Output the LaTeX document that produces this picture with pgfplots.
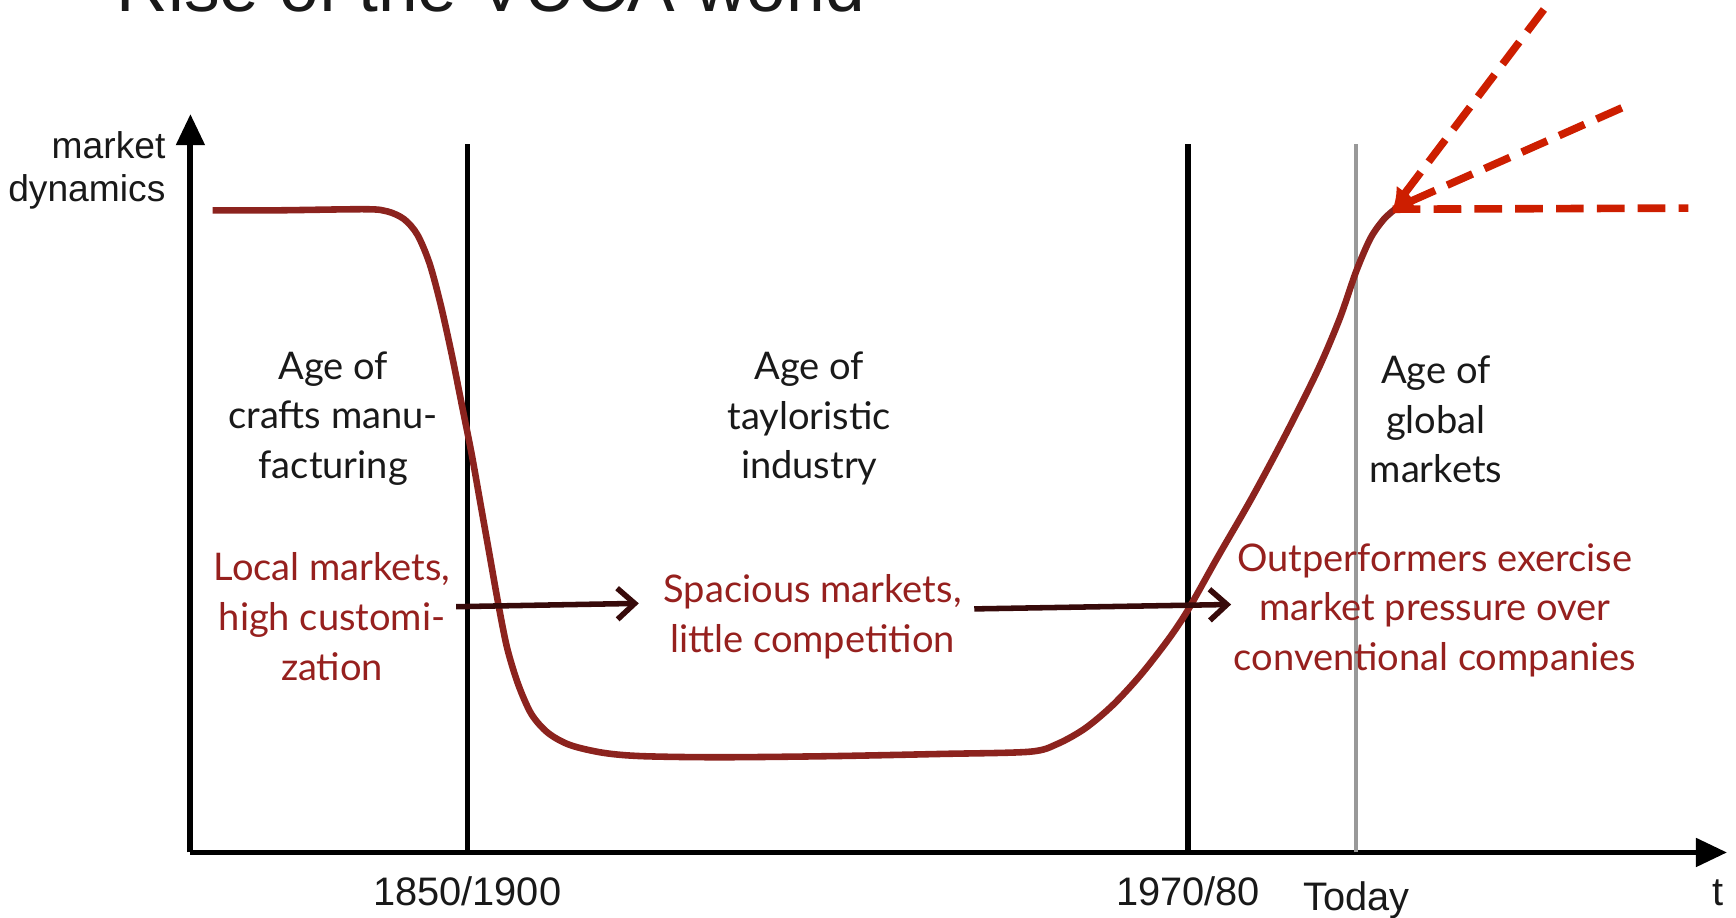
\documentclass[border=0pt]{standalone}
\usepackage{pgfplots}
\pgfplotsset{compat=1.18}
\usetikzlibrary{arrows.meta}
\usepackage{fontspec}
\setmainfont{Liberation Sans}
\newfontfamily\labfont{Lato}
\definecolor{curve}{RGB}{140,35,30}
\definecolor{redtxt}{RGB}{150,32,30}
\definecolor{dashred}{RGB}{205,30,0}
\definecolor{arr}{RGB}{55,10,10}
\definecolor{txt}{RGB}{25,25,25}
\begin{document}
\begin{tikzpicture}[x=0.32pt,y=0.32pt]
\begin{axis}[
  at={(55.04pt,18.88pt)}, anchor=south west,
  x=0.32pt, y=0.32pt,
  xmin=172, xmax=1560, ymin=59, ymax=726,
  axis x line=bottom, axis y line=left,
  axis line style={line width=1.7pt, -{Triangle[length=9pt,width=8pt]}},
  xtick={422,1073,1225},
  xticklabels={1850/1900,1970/80,\raisebox{-1.3pt}{Today}},
  ytick=\empty,
  major tick length=0pt,
  xticklabel style={font=\fontsize{11.5}{13}\selectfont, text=txt, anchor=base, yshift=-15.4pt},
  clip=false,
]
% era boundaries
\addplot[black, line width=1.5pt] coordinates {(422,59) (422,699)};
\addplot[black, line width=1.5pt] coordinates {(1073,59) (1073,699)};
\addplot[black!40, line width=1.1pt] coordinates {(1225,59) (1225,699)};
% market dynamics curve
\addplot[curve, line width=1.9pt, smooth, tension=0.5] coordinates {
(192,639) (250,639) (330,640) (350,638) (365,631) (377,617) (388,591) (398,554)
(408,509) (417,464) (426,419) (434,374) (442,329) (450,284) (458,244) (468,211)
(480,184) (495,167) (515,156) (545,149) (580,146) (650,145) (750,146) (850,148)
(930,150) (955,157) (980,171) (1005,192) (1030,219) (1055,251) (1073,278)
(1100,326) (1130,378) (1160,434) (1190,494) (1210,541) (1225,584) (1238,614)
(1250,631) (1260,640)};
% future scenarios
\addplot[dashred, line width=2.2pt, dash pattern=on 8pt off 3.8pt, {Latex[length=6pt,width=6.5pt]}-] coordinates {(1258,640) (1395,821)};
\addplot[dashred, line width=2.2pt, dash pattern=on 8pt off 3.8pt, {Latex[length=6pt,width=6.5pt]}-] coordinates {(1258,640) (1475,736)};
\addplot[dashred, line width=2.2pt, dash pattern=on 8pt off 3.8pt] coordinates {(1258,640) (1525,641)};
% transition arrows
\addplot[arr, line width=1.6pt, -{Straight Barb[length=5pt,width=9pt]}] coordinates {(412,281) (577,284)};
\addplot[arr, line width=1.6pt, -{Straight Barb[length=5pt,width=9pt]}] coordinates {(880,279) (1112,283)};
% labels
\node[font=\fontsize{10.75}{12.2}\selectfont, text=txt, align=right, anchor=east, inner sep=0] at (150,675) {market\\dynamics};
\node[font=\labfont\fontsize{11}{14.3}\selectfont, text=txt, align=center] at (301,451) {Age of\\crafts manu-\\facturing};
\node[font=\labfont\fontsize{11}{14.3}\selectfont, text=txt, align=center] at (731,451) {Age of\\tayloristic\\industry};
\node[font=\labfont\fontsize{11}{14.3}\selectfont, text=txt, align=center] at (1297,450) {Age of\\global\\markets};
\node[font=\labfont\fontsize{11}{14.5}\selectfont, text=redtxt, align=center] at (300,272) {Local markets,\\high customi-\\zation};
\node[font=\labfont\fontsize{11}{14.3}\selectfont, text=redtxt, align=center] at (734,272) {Spacious markets,\\little competition};
\node[font=\labfont\fontsize{11}{14.3}\selectfont, text=redtxt, align=center] at (1296,278) {Outperformers exercise\\market pressure over\\conventional companies};
\node[font=\fontsize{11.5}{13}\selectfont, text=txt, anchor=base, inner sep=0] at (1552,11) {t};
\end{axis}
\begin{scope}
\clip (0,0) rectangle (1568,829);
\node[anchor=base west, inner sep=0, text=txt, font=\fontsize{20.6}{24}\selectfont] at (105,819) {Rise of the VUCA world};
\end{scope}
\pgfresetboundingbox
\path[use as bounding box] (0,0) rectangle (1568,829);
\end{tikzpicture}
\end{document}
